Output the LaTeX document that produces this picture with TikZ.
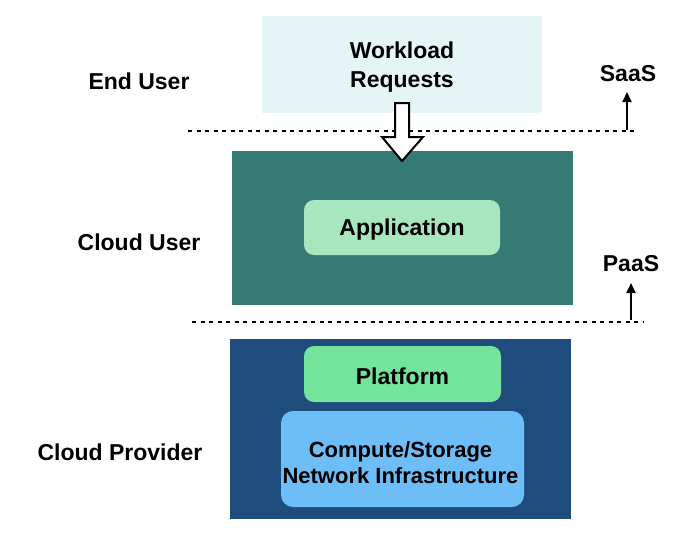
\documentclass[tikz,border=0pt]{standalone}
\usepackage{fontspec}
\setmainfont{Liberation Sans}
\usetikzlibrary{arrows.meta}
\definecolor{topfill}{HTML}{E5F4F5}
\definecolor{userfill}{HTML}{367A75}
\definecolor{appfill}{HTML}{A8E6BE}
\definecolor{provfill}{HTML}{1E4C7D}
\definecolor{platfill}{HTML}{74E49C}
\definecolor{compfill}{HTML}{6DBDF7}
\tikzset{
  lbl/.style={font=\fontsize{23}{27}\selectfont\bfseries, text=black, align=center},
  sep/.style={dashed, dash pattern=on 4pt off 4.5pt, line width=2pt},
  uparrow/.style={-{Triangle[length=10pt,width=9pt]}, line width=2pt},
  boxlbl/.style={lbl, inner sep=0pt, text depth=0pt},
}
\begin{document}
\begin{tikzpicture}[x=1pt,y=-1pt]
\useasboundingbox (0,0) rectangle (680,536);
% boxes
\fill[topfill] (262,16) rectangle (542,113);
\node[lbl] (wr) at (402,67) {Workload\\[2pt]Requests};
\fill[userfill] (232,151) rectangle (573,305);
\fill[provfill] (230,339) rectangle (571,519);
\node[boxlbl, fill=appfill, rounded corners=10pt, minimum width=196pt, minimum height=55pt] (app) at (402,227.5) {Application};
\node[boxlbl, fill=platfill, rounded corners=10pt, minimum width=197pt, minimum height=56pt] (plat) at (402.5,374) {};
\node[lbl] (plattxt) at (402.5,376) {Platform};
\node[boxlbl, fill=compfill, rounded corners=12pt, minimum width=243pt, minimum height=96pt] (comp) at (402.5,459) {};
\node[lbl, font=\fontsize{22}{26}\selectfont\bfseries] (comptxt) at (400.5,463) {Compute/Storage\\Network Infrastructure};
% side labels
\node[lbl] (eu) at (139,81) {End User};
\node[lbl] (cu) at (139,242) {Cloud User};
\node[lbl] (cp) at (120,452) {Cloud Provider};
\node[lbl] (saas) at (628,74) {SaaS};
\node[lbl] (paas) at (631,264) {PaaS};
% separators
\coordinate (s1a) at (188,131); \coordinate (s1b) at (638,131);
\coordinate (s2a) at (192,322); \coordinate (s2b) at (643,322);
\draw[sep] (s1a) -- (s1b);
\draw[sep] (s2a) -- (s2b);
% up arrows
\coordinate (a1) at (627,130); \coordinate (a1t) at (627,92);
\coordinate (a2) at (631,320); \coordinate (a2t) at (631,283);
\draw[uparrow] (a1) -- (a1t);
\draw[uparrow] (a2) -- (a2t);
% hollow arrow
\draw[line width=2pt, fill=white, line join=miter]
  (395,103) -- (409,103) -- (409,137) -- (423,137) -- (402,161) -- (382,137) -- (395,137) -- cycle;
\end{tikzpicture}
\end{document}
